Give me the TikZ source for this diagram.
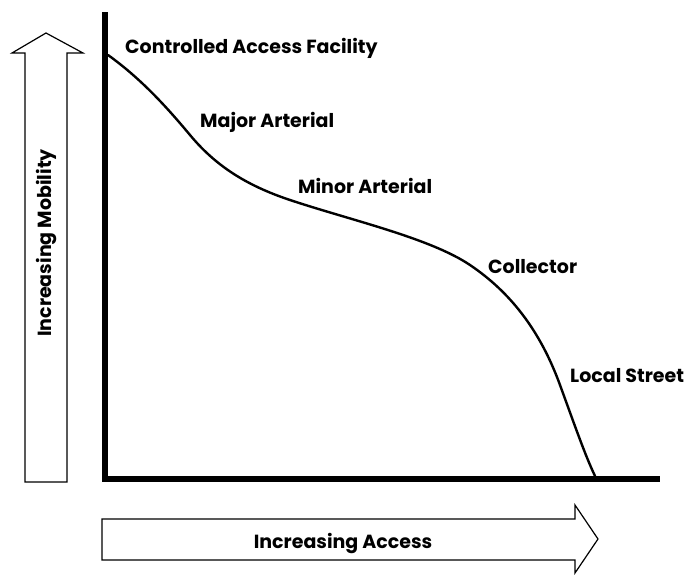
\documentclass[tikz,border=0pt]{standalone}
\usepackage{fontspec}
\setmainfont{Poppins}
\usetikzlibrary{positioning}

\tikzset{
  lbl/.style={font=\fontsize{19}{22}\selectfont\bfseries, inner sep=0pt, anchor=base west},
  bigarrow/.style={draw=black, line width=1.2pt, fill=white, line join=miter}
}

\begin{document}
\begin{tikzpicture}[x=1pt,y=-1pt]
\useasboundingbox (0,0) rectangle (689,574);

% Left arrow - mobility
\draw[bigarrow] (25,482) -- (25,53) -- (12,53) -- (46,33) -- (83,53) -- (67,53) -- (67,482) -- cycle;
\node[lbl, anchor=base, rotate=90] (mob) at (52,243) {Increasing Mobility};

% Bottom arrow - access
\draw[bigarrow] (102,519) -- (575,519) -- (575,505) -- (598,539) -- (575,573) -- (575,560) -- (102,560) -- cycle;
\node[lbl, anchor=base] (acc) at (343,548) {Increasing Access};

% Axes
\draw[line width=6pt, line join=miter] (105,12) -- (105,479) -- (660,479);

% Mobility-access curve
\draw[line width=2.4pt, line cap=round] (108,55) .. controls (140,78) and (165,105) .. (190,135)
  .. controls (215,165) and (245,185) .. (290,200)
  .. controls (350,220) and (430,238) .. (470,265)
  .. controls (510,292) and (540,330) .. (560,385)
  .. controls (575,426) and (585,455) .. (595,476);

% Road classes
\node[lbl] (caf) at (125,53) {Controlled Access Facility};
\node[lbl] (maj) at (200,127) {Major Arterial};
\node[lbl] (min) at (298,193) {Minor Arterial};
\node[lbl] (col) at (488,273) {Collector};
\node[lbl] (loc) at (570,382) {Local Street};
\end{tikzpicture}
\end{document}
